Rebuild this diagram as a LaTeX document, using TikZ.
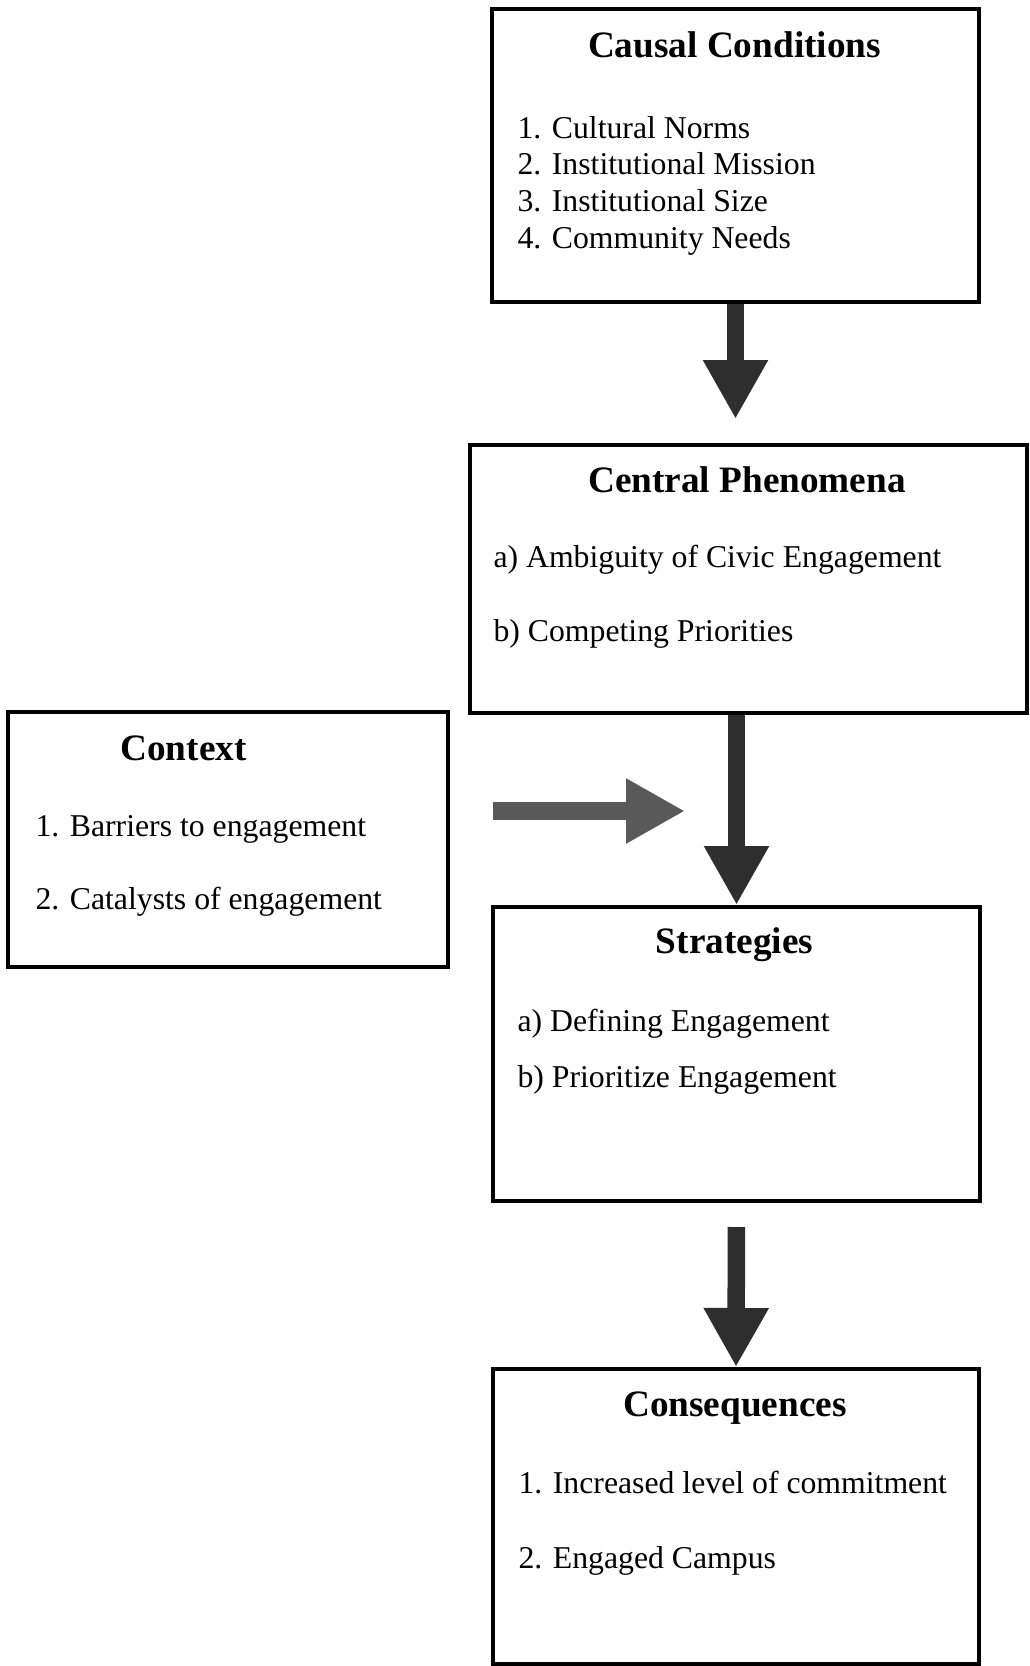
\documentclass[tikz,border=0pt]{standalone}
\usepackage{fontspec}
\setmainfont{Liberation Serif}
\usetikzlibrary{arrows.meta}

\begin{document}
\begin{tikzpicture}[x=0.4pt, y=-0.4pt,
		box/.style={draw, line width=1.6pt, inner sep=0pt},
		head/.style={font=\fontsize{14.9}{18}\selectfont\bfseries, anchor=base, inner sep=0pt},
		item/.style={font=\fontsize{12.7}{15}\selectfont, anchor=base west, inner sep=0pt},
		bigarrow/.style={line width=7pt, draw=black!82, -{Triangle[width=24.4pt, length=23.6pt]}}]
			\useasboundingbox (0,0) rectangle (1029,1666);
			% boxes
			\node[box, minimum width=194.8pt, minimum height=117.2pt] (causal) at (735.5,155.5) {};
			\node[box, minimum width=222.8pt, minimum height=107.2pt] (central) at (748.5,579) {};
			\node[box, minimum width=176pt, minimum height=102pt] (context) at (228,839.5) {};
			\node[box, minimum width=194.8pt, minimum height=117.6pt] (strat) at (736.5,1054) {};
			\node[box, minimum width=194.4pt, minimum height=118pt] (conseq) at (736,1516.5) {};
			% titles
			\node[head] (causaltitle) at (734.5,57) {Causal Conditions};
			\node[head] (centraltitle) at (747,492) {Central Phenomena};
			\node[head] (contexttitle) at (183.5,760) {Context};
			\node[head] (strattitle) at (734.5,953) {Strategies};
			\node[head] (conseqtitle) at (735,1416) {Consequences};
			% items
			\foreach \t [count=\i] in {Cultural Norms, Institutional Mission, Institutional Size, Community Needs}{
				\node[item] (cause\i) at (517,{101.3+36.7*\i}) {\i. \t};
			}
			\node[item] (centrala) at (493,567) {a) Ambiguity of Civic Engagement};
			\node[item] (centralb) at (493,641) {b) Competing Priorities};
			\node[item] (context1) at (35,836) {1. Barriers to engagement};
			\node[item] (context2) at (35,909) {2. Catalysts of engagement};
			\node[item] (strata) at (517,1031) {a) Defining Engagement};
			\node[item] (stratb) at (517,1087) {b) Prioritize Engagement};
			\node[item] (conseq1) at (518,1493) {1. Increased level of commitment};
			\node[item] (conseq2) at (518,1568) {2. Engaged Campus};
			% arrows
			\coordinate (ctxout) at (493,811);
			\coordinate (ctxin) at (685,811);
			\draw[bigarrow, shorten >=9.6pt] (causal.south) -- (causal.south |- central.north);
			\draw[bigarrow] (strat.north |- central.south) -- (strat.north);
			\draw[bigarrow, shorten <=9.6pt] (strat.south) -- (conseq.north);
			\draw[bigarrow, line width=7.2pt, draw=black!65] (ctxout) -- (ctxin);
\end{tikzpicture}
\end{document}
